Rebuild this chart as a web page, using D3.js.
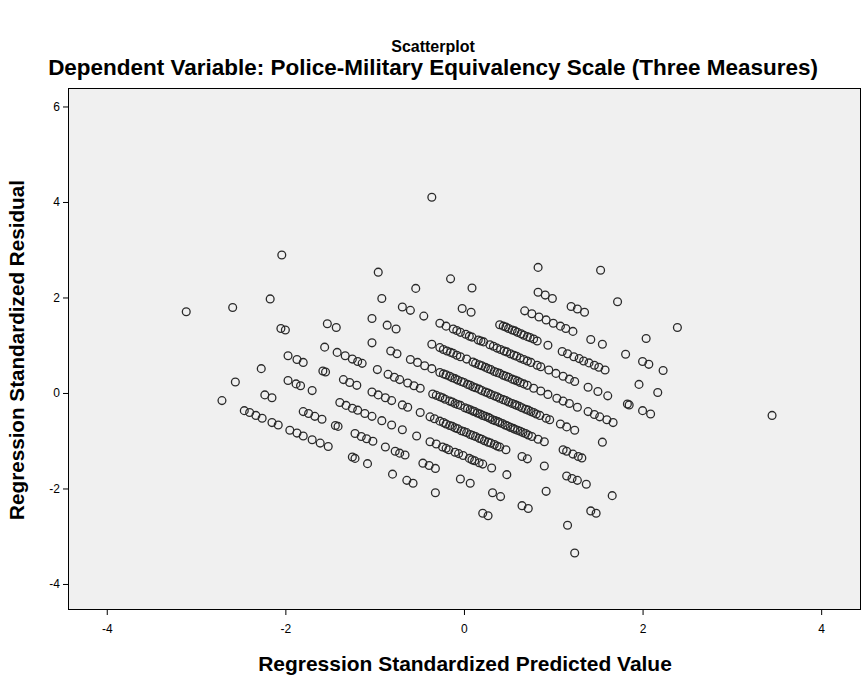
<!DOCTYPE html>
<html>
<head>
<meta charset="utf-8">
<script src="https://cdn.jsdelivr.net/npm/d3@7/dist/d3.min.js"></script>
<style>
  html, body { margin: 0; padding: 0; background: #ffffff; }
  svg { display: block; }
  text { font-family: "Liberation Sans", Arial, sans-serif; fill: #000; }
</style>
</head>
<body>
<svg id="chart" width="865" height="679"></svg>
<script>
// Regression standardized predicted values (x) and standardized residuals (y)
const predicted = [
  -0.36, 1.53,
  0.83, 1.72, 2.39,
  0.83, 0.91, 0.99, 1.20, 1.27, 1.35, 2.04,
  -0.15, 0.09, 0.68, 0.76, 0.84, 0.92, 1.00, 1.08, 1.14, 1.22, 1.42, 1.55, 1.81, 2.00, 2.07, 2.23, 3.45,
  -0.96, -0.54, -0.02, 0.08, 0.40, 0.47, 0.54, 0.60, 0.67, 0.74, 0.82, 0.94, 1.10, 1.16, 1.23, 1.29, 1.34, 1.40, 1.46, 1.51, 1.58, 1.96, 2.17,
  0.44, 0.50, 0.57, 0.64, 0.71, 0.78,
  -2.04, -0.92, -0.69, -0.60, -0.45, -0.27, -0.20, -0.12, -0.04, 0.02, 0.09, 0.16, 0.22, 0.29, 0.37, 0.45, 0.52, 0.59, 0.67, 0.75, 0.82, 0.86, 0.95, 1.03, 1.11, 1.18, 1.24, 1.39, 1.50, 1.61, 1.83, 1.85, 2.00, 2.09,
  -0.08, 0.06, 0.19, 0.33, 0.41, 0.48, 0.56, 0.63, 0.71,
  -1.03, -0.86, -0.76, -0.36, -0.27, -0.19, -0.12, -0.04, 0.10, 0.17, 0.24, 0.30, 0.37, 0.44, 0.50, 0.57, 0.63, 0.71, 0.78, 0.86, 0.94, 1.04, 1.11, 1.18, 1.27, 1.39, 1.46, 1.52, 1.60, 1.67,
  -0.23, -0.15, -0.08, 0.03, 0.13, 0.20, 0.27, 0.34, 0.40, 0.47, 0.54, 0.60, 0.67,
  -2.17, -1.53, -1.43, -1.03, -0.82, -0.75, -0.60, -0.52, -0.44, -0.36, -0.27, -0.20, -0.13, -0.07, 0.00, 0.07, 0.13, 0.20, 0.27, 0.34, 0.40, 0.47, 0.54, 0.59, 0.65, 0.72, 0.78, 0.85, 0.92, 0.96, 1.08, 1.15, 1.24, 1.55,
  -0.23, -0.16, -0.10, -0.03, 0.04, 0.10, 0.17, 0.24, 0.30, 0.37, 0.44, 0.50, 0.57, 0.62, 0.69, 0.75, 0.81,
  -2.59, -2.05, -2.00, -1.56, -1.42, -1.33, -1.25, -1.19, -1.14, -0.97, -0.85, -0.78, -0.72, -0.63, -0.56, -0.49, -0.35, -0.27, -0.21, -0.16, -0.10, -0.04, 0.01, 0.07, 0.12, 0.18, 0.24, 0.29, 0.35, 0.40, 0.46, 0.52, 0.57, 0.63, 0.69, 0.76, 0.83, 0.90, 1.11, 1.15, 1.22, 1.28, 1.32,
  -0.31, -0.24, -0.13, -0.07, 0.04, 0.10, 0.15, 0.21, 0.27, 0.32, 0.38, 0.43, 0.49, 0.55, 0.60, 0.66, 0.72,
  -3.11, -1.97, -1.87, -1.80, -1.58, -1.55, -1.35, -1.28, -1.20, -1.03, -0.96, -0.88, -0.81, -0.69, -0.63, -0.49, -0.38, -0.27, -0.20, -0.13, -0.07, 0.00, 0.07, 0.13, 0.20, 0.27, 0.34, 0.40, 0.47, 0.65, 0.71, 0.90, 1.15, 1.21, 1.27, 1.37, 1.66,
  -0.33, -0.23, -0.16, -0.10, -0.03, 0.03, 0.10, 0.17, 0.23, 0.30, 0.37,
  -2.27, -1.97, -1.88, -1.83, -1.70, -1.39, -1.32, -1.25, -1.19, -1.11, -1.03, -0.92, -0.81, -0.69, -0.53, -0.38, -0.31, -0.24, -0.17, -0.10, -0.01, 0.06, 0.12, 0.21, 0.31, 0.48, 0.92, 1.42, 1.48,
  -0.20, -0.06, 0.09, 0.17,
  -2.56, -2.23, -2.15, -1.80, -1.74, -1.67, -1.59, -1.44, -1.41, -1.22, -1.15, -1.09, -1.02, -0.88, -0.77, -0.72, -0.66, -0.46, -0.39, -0.32, -0.04, 0.07, 0.32, 0.41, 0.65, 0.72, 1.16,
  -2.71, -2.46, -2.40, -2.33, -2.26, -2.15, -2.08, -1.95, -1.87, -1.80, -1.70, -1.61, -1.52, -1.25, -1.22, -1.08, -0.80, -0.64, -0.57, -0.32, 0.21, 0.27, 1.24
];
const residual = [
  4.10, 2.57,
  2.63, 1.91, 1.37,
  2.11, 2.05, 1.98, 1.81, 1.76, 1.69, 1.14,
  2.39, 2.20, 1.72, 1.66, 1.59, 1.53, 1.46, 1.40, 1.35, 1.29, 1.12, 1.02, 0.81, 0.66, 0.60, 0.47, -0.47,
  2.53, 2.19, 1.77, 1.69, 1.43, 1.38, 1.32, 1.27, 1.21, 1.16, 1.09, 1.00, 0.87, 0.82, 0.76, 0.72, 0.67, 0.63, 0.58, 0.54, 0.48, 0.18, 0.01,
  1.40, 1.35, 1.30, 1.24, 1.18, 1.13,
  2.89, 1.98, 1.80, 1.73, 1.61, 1.46, 1.40, 1.34, 1.27, 1.23, 1.17, 1.11, 1.07, 1.01, 0.94, 0.88, 0.82, 0.77, 0.70, 0.64, 0.58, 0.55, 0.48, 0.41, 0.35, 0.29, 0.24, 0.12, 0.03, -0.06, -0.23, -0.25, -0.37, -0.44,
  1.31, 1.19, 1.09, 0.98, 0.91, 0.86, 0.79, 0.73, 0.67,
  1.56, 1.42, 1.34, 1.02, 0.95, 0.88, 0.83, 0.76, 0.65, 0.59, 0.54, 0.49, 0.43, 0.37, 0.33, 0.27, 0.22, 0.16, 0.10, 0.04, -0.03, -0.11, -0.17, -0.22, -0.30, -0.39, -0.45, -0.50, -0.56, -0.62,
  0.91, 0.85, 0.79, 0.71, 0.62, 0.57, 0.51, 0.45, 0.41, 0.35, 0.29, 0.25, 0.19,
  1.97, 1.45, 1.37, 1.05, 0.88, 0.82, 0.70, 0.64, 0.57, 0.51, 0.43, 0.38, 0.32, 0.27, 0.22, 0.16, 0.11, 0.05, 0.00, -0.06, -0.11, -0.16, -0.22, -0.26, -0.31, -0.36, -0.41, -0.47, -0.53, -0.56, -0.65, -0.71, -0.78, -1.03,
  0.40, 0.35, 0.30, 0.24, 0.18, 0.13, 0.08, 0.02, -0.03, -0.08, -0.14, -0.19, -0.24, -0.28, -0.34, -0.39, -0.44,
  1.79, 1.35, 1.32, 0.96, 0.85, 0.78, 0.71, 0.66, 0.62, 0.49, 0.39, 0.33, 0.28, 0.21, 0.15, 0.10, -0.02, -0.08, -0.13, -0.17, -0.22, -0.26, -0.31, -0.35, -0.39, -0.44, -0.49, -0.53, -0.58, -0.62, -0.67, -0.72, -0.76, -0.80, -0.85, -0.91, -0.97, -1.02, -1.19, -1.22, -1.28, -1.33, -1.36,
  -0.05, -0.10, -0.19, -0.24, -0.33, -0.38, -0.42, -0.47, -0.51, -0.56, -0.60, -0.64, -0.69, -0.74, -0.78, -0.83, -0.88,
  1.70, 0.78, 0.70, 0.64, 0.46, 0.44, 0.28, 0.22, 0.16, 0.02, -0.04, -0.10, -0.16, -0.25, -0.30, -0.41, -0.50, -0.59, -0.65, -0.70, -0.75, -0.81, -0.87, -0.91, -0.97, -1.03, -1.08, -1.13, -1.19, -1.33, -1.38, -1.53, -1.74, -1.79, -1.83, -1.91, -2.15,
  -0.54, -0.62, -0.68, -0.73, -0.79, -0.83, -0.89, -0.95, -1.00, -1.05, -1.11,
  0.51, 0.26, 0.19, 0.15, 0.05, -0.20, -0.26, -0.32, -0.36, -0.43, -0.49, -0.58, -0.67, -0.77, -0.90, -1.02, -1.07, -1.13, -1.19, -1.24, -1.31, -1.37, -1.42, -1.49, -1.57, -1.71, -2.06, -2.47, -2.52,
  -1.16, -1.27, -1.40, -1.46,
  0.23, -0.04, -0.10, -0.39, -0.43, -0.49, -0.55, -0.68, -0.70, -0.85, -0.91, -0.96, -1.01, -1.13, -1.22, -1.26, -1.30, -1.47, -1.52, -1.58, -1.80, -1.89, -2.09, -2.17, -2.36, -2.42, -2.77,
  -0.16, -0.37, -0.41, -0.47, -0.53, -0.62, -0.67, -0.78, -0.84, -0.90, -0.98, -1.05, -1.12, -1.34, -1.37, -1.48, -1.70, -1.83, -1.89, -2.09, -2.52, -2.57, -3.35
];
const xTicks = [-4, -2, 0, 2, 4];
const yTicks = [-4, -2, 0, 2, 4, 6];

const titleText = "Scatterplot";
const subtitleText = "Dependent Variable: Police-Military Equivalency Scale (Three Measures)";
const xTitle = "Regression Standardized Predicted Value";
const yTitle = "Regression Standardized Residual";

const points = predicted.map((p, i) => ({ p, r: residual[i] }));

const svg = d3.select("#chart");
const plot = { left: 68, right: 861, top: 88, bottom: 610 };

const x = d3.scaleLinear().domain([-4.434, 4.446]).range([plot.left, plot.right]);
const y = d3.scaleLinear().domain([-4.545, 6.387]).range([plot.bottom, plot.top]);

// plot background
svg.append("rect")
  .attr("x", plot.left).attr("y", plot.top)
  .attr("width", plot.right - plot.left).attr("height", plot.bottom - plot.top)
  .attr("fill", "#f0f0f0");

// axes (plain hyphen-minus in the tick labels)
const tickFmt = d => String(d);
const xAxis = d3.axisBottom(x).tickValues(xTicks).tickSize(5).tickPadding(9).tickFormat(tickFmt);
const yAxis = d3.axisLeft(y).tickValues(yTicks).tickSize(5).tickPadding(3).tickFormat(tickFmt);

const gx = svg.append("g").attr("transform", `translate(0,${plot.bottom})`).call(xAxis);
const gy = svg.append("g").attr("transform", `translate(${plot.left},0)`).call(yAxis);
[gx, gy].forEach(g => {
  g.select(".domain").remove();
  g.selectAll(".tick line").attr("stroke", "#000").attr("stroke-width", 1);
  g.selectAll(".tick text").attr("font-size", 12).attr("font-family", "Liberation Sans, Arial, sans-serif").attr("fill", "#000");
});

// points
svg.append("g")
  .selectAll("circle")
  .data(points)
  .join("circle")
  .attr("cx", d => x(d.p))
  .attr("cy", d => y(d.r))
  .attr("r", 3.9)
  .attr("fill", "none")
  .attr("stroke", "#2a2a2a")
  .attr("stroke-width", 1.3);

// frame
svg.append("rect")
  .attr("x", plot.left + 0.5).attr("y", plot.top + 0.5)
  .attr("width", plot.right - plot.left - 1).attr("height", plot.bottom - plot.top - 1)
  .attr("fill", "none").attr("stroke", "#000").attr("stroke-width", 1);

// titles, sized so that each spans its intended width
function fitText(sel, width) {
  const base = +sel.attr("font-size");
  const len = sel.node().getComputedTextLength();
  sel.attr("font-size", (base * width / len).toFixed(2));
}
svg.append("text").attr("x", 433).attr("y", 52).attr("text-anchor", "middle")
  .attr("font-size", 16).attr("font-weight", "bold").text(titleText);
const t2 = svg.append("text").attr("x", 433).attr("y", 75).attr("text-anchor", "middle")
  .attr("font-size", 18).attr("font-weight", "bold").text(subtitleText);
fitText(t2, 770);
const t3 = svg.append("text").attr("x", 465).attr("y", 671).attr("text-anchor", "middle")
  .attr("font-size", 16).attr("font-weight", "bold").text(xTitle);
fitText(t3, 414);
const t4 = svg.append("text").attr("transform", `translate(24,${350}) rotate(-90)`)
  .attr("text-anchor", "middle")
  .attr("font-size", 16).attr("font-weight", "bold").text(yTitle);
fitText(t4, 340);
</script>
</body>
</html>
